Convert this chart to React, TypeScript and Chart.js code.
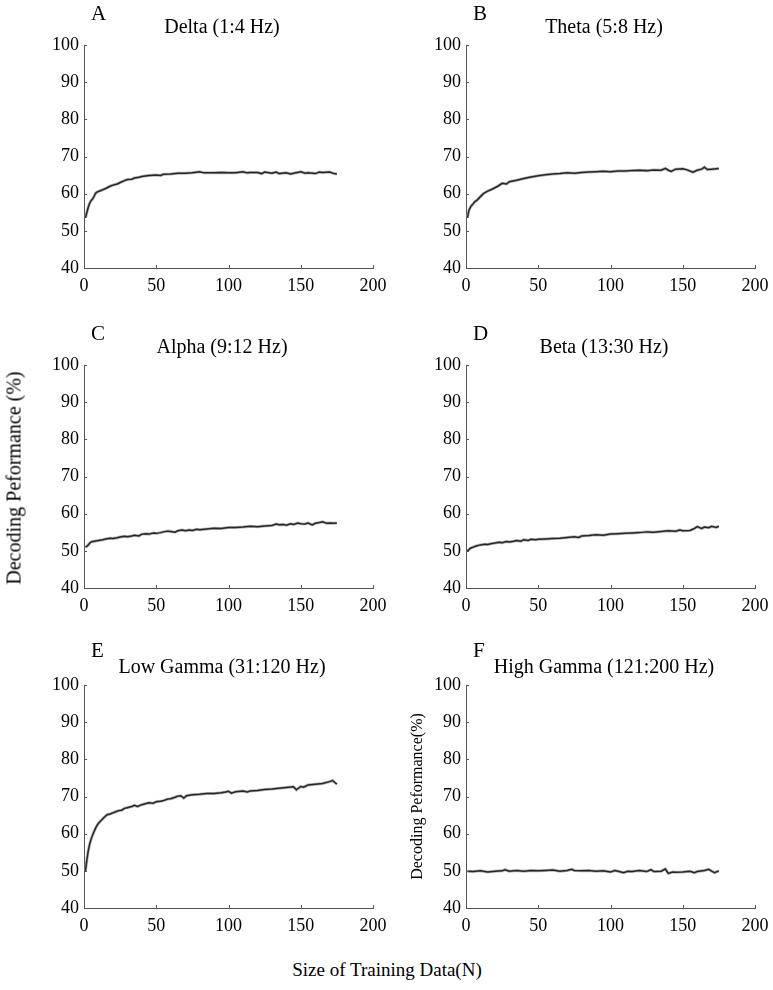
import React, { useEffect, useRef } from "react";
import { Chart, registerables } from "chart.js";
Chart.register(...registerables);

const FONT = "'Liberation Serif', 'Times New Roman', serif";
Chart.defaults.font.family = FONT;

const xTickStep = 50;
const xMin = 0;
const xMax = 200;
const yMin = 40;
const yMax = 100;
const yTickStep = 10;

const deltaX = [1,2,3,4,5,6,7,8,9,10,12,15,18,20,23,25,28,30,33,35,38,40,45,50,53,55,60,65,70,75,80,83,85,90,95,100,105,110,113,115,120,123,125,130,133,135,140,143,145,150,153,155,160,163,165,170,173,175];
const deltaY = [53.5,55.0,56.4,57.5,58.2,58.6,59.3,60.1,60.4,60.6,60.9,61.4,62.0,62.3,62.6,63.0,63.5,63.8,63.9,64.2,64.4,64.6,64.9,65.0,64.9,65.2,65.3,65.5,65.5,65.6,65.9,65.6,65.6,65.6,65.7,65.6,65.6,65.9,65.6,65.7,65.7,65.4,65.8,65.5,65.8,65.4,65.6,65.3,65.5,65.9,65.5,65.6,65.4,65.8,65.7,65.8,65.4,65.3];

const thetaX = [1,2,3,4,5,6,8,10,12,15,18,20,22,25,28,30,35,40,45,50,55,60,65,70,75,80,85,90,95,100,105,110,115,120,125,130,135,138,140,142,145,150,153,157,160,163,165,167,170,175];
const thetaY = [53.5,55.5,56.3,56.9,57.3,57.8,58.4,59.2,60.0,60.7,61.2,61.6,62.0,62.8,62.6,63.2,63.6,64.1,64.5,64.8,65.1,65.3,65.4,65.6,65.5,65.7,65.8,65.9,66.0,65.9,66.1,66.1,66.2,66.3,66.2,66.4,66.3,66.8,66.3,66.0,66.6,66.7,66.4,65.8,66.3,66.6,67.1,66.5,66.6,66.8];

const alphaX = [1,2,3,4,5,7,10,13,15,18,20,23,25,28,30,33,35,38,40,43,45,48,50,53,55,58,60,63,65,68,70,73,75,78,80,85,90,95,100,105,110,115,120,125,130,133,135,138,140,143,145,148,150,153,155,158,160,163,165,168,170,173,175];
const alphaY = [51.0,51.2,51.6,52.1,52.4,52.6,52.8,53.0,53.2,53.4,53.3,53.5,53.7,53.9,53.8,54.0,54.2,54.0,54.5,54.6,54.5,54.8,54.7,54.9,55.1,55.3,55.2,55.0,55.4,55.6,55.4,55.6,55.5,55.8,55.7,55.9,56.1,56.0,56.3,56.3,56.4,56.6,56.5,56.7,56.8,57.2,57.0,57.1,56.9,57.3,57.1,57.5,57.3,57.2,57.5,57.0,57.4,57.6,57.8,57.4,57.5,57.4,57.5];

const betaX = [1,2,3,5,7,10,13,15,18,20,23,25,28,30,33,35,38,40,43,45,48,50,55,60,65,70,75,78,80,85,90,95,100,105,110,115,120,125,130,135,140,145,148,150,155,158,160,163,165,168,170,173,175];
const betaY = [50.0,50.3,50.7,51.0,51.3,51.6,51.8,51.7,52.0,52.1,52.3,52.2,52.5,52.4,52.6,52.8,52.6,53.0,52.8,53.1,53.0,53.1,53.2,53.3,53.4,53.6,53.8,53.6,54.0,54.1,54.3,54.2,54.5,54.6,54.7,54.8,54.9,55.1,55.0,55.2,55.4,55.3,55.6,55.4,55.5,56.0,56.5,56.0,56.4,56.2,56.6,56.3,56.6];

const lowGammaX = [1,2,3,4,5,6,7,8,9,10,12,14,16,18,20,22,24,26,28,30,33,35,37,40,43,45,48,50,53,55,58,60,63,65,67,69,71,75,80,85,90,95,98,100,102,105,110,113,115,120,125,130,135,140,145,147,150,152,155,160,165,170,172,175];
const lowGammaY = [50.0,53.0,55.5,57.3,58.6,59.7,60.6,61.5,62.2,62.8,63.6,64.4,65.1,65.3,65.6,65.9,66.2,66.3,66.8,67.0,67.3,67.6,67.3,67.8,68.1,68.3,68.2,68.6,68.7,68.9,69.3,69.4,69.8,70.1,70.2,69.6,70.2,70.5,70.6,70.8,70.8,71.0,71.2,71.4,70.9,71.3,71.5,71.2,71.5,71.6,71.9,72.0,72.2,72.4,72.6,71.8,72.7,72.5,73.1,73.3,73.5,74.0,74.3,73.3];

const highGammaX = [1,5,10,15,20,25,27,30,35,40,45,50,55,60,65,70,73,75,80,85,90,95,100,103,106,109,112,115,120,125,128,130,135,138,140,143,145,150,155,158,160,165,168,170,172,175];
const highGammaY = [49.9,49.8,50.0,49.7,49.9,50.0,50.3,49.9,50.1,49.9,50.1,50.0,50.1,50.2,49.9,50.1,50.4,50.1,50.0,50.1,49.9,50.0,49.7,50.1,49.8,49.5,49.9,49.8,50.1,49.8,50.3,49.8,49.9,50.5,49.3,49.7,49.6,49.7,49.9,49.5,49.8,50.1,50.4,49.9,49.5,50.0];

const letters = ["A", "B", "C", "D", "E", "F"];
const titles = [
  "Delta (1:4 Hz)",
  "Theta (5:8 Hz)",
  "Alpha (9:12 Hz)",
  "Beta (13:30 Hz)",
  "Low Gamma (31:120 Hz)",
  "High Gamma (121:200 Hz)",
];
const xSeries = [deltaX, thetaX, alphaX, betaX, lowGammaX, highGammaX];
const ySeries = [deltaY, thetaY, alphaY, betaY, lowGammaY, highGammaY];
const panelYLabels = ["", "", "", "", "", "Decoding Peformance(%)"];

const yAxisLabel = "Decoding Peformance (%)";
const xAxisLabel = "Size of Training Data(N)";

const CW = 390;
const CH = 310;
const AX_LEFT = 84;
const AX_TOP = 45;
const AX_W = 289;
const AX_H = 223;
const XAXIS_H = 32;

function Panel({ idx }: { idx: number }) {
  const ref = useRef<HTMLCanvasElement>(null);
  const col = idx % 2;
  const row = Math.floor(idx / 2);
  const left = col === 0 ? 0 : 382;
  const top = row * 320;

  useEffect(() => {
    const pts = xSeries[idx].map((x, i) => ({ x, y: ySeries[idx][i] }));
    const decor = {
      id: "decor",
      afterDraw(chart: any) {
        const { ctx, chartArea } = chart;
        const xs = chart.scales.x;
        const ys = chart.scales.y;
        ctx.save();
        ctx.strokeStyle = "#555";
        ctx.lineWidth = 1;
        ctx.beginPath();
        xs.ticks.forEach((t: any) => {
          const px = Math.round(xs.getPixelForValue(t.value)) + 0.5;
          ctx.moveTo(px, chartArea.bottom);
          ctx.lineTo(px, chartArea.bottom - 3);
        });
        ys.ticks.forEach((t: any) => {
          const py = Math.round(ys.getPixelForValue(t.value)) + 0.5;
          ctx.moveTo(chartArea.left, py);
          ctx.lineTo(chartArea.left + 3, py);
        });
        ctx.stroke();
        ctx.fillStyle = "#000";
        ctx.textBaseline = "middle";
        ctx.textAlign = "left";
        ctx.font = `21px ${FONT}`;
        ctx.fillText(letters[idx], chartArea.left + 7, chartArea.top - (row === 2 ? 34 : 31));
        ctx.textAlign = "center";
        ctx.font = `20px ${FONT}`;
        ctx.fillText(titles[idx], chartArea.left + 138, chartArea.top - 17);
        if (panelYLabels[idx]) {
          ctx.save();
          ctx.translate(chartArea.left - 48, (chartArea.top + chartArea.bottom) / 2);
          ctx.rotate(-Math.PI / 2);
          ctx.font = `16px ${FONT}`;
          ctx.fillText(panelYLabels[idx], 0, 0);
          ctx.restore();
        }
        ctx.restore();
      },
    };
    const chart = new Chart(ref.current as HTMLCanvasElement, {
      type: "line",
      data: {
        datasets: [
          { data: pts, borderColor: "#262626", borderWidth: 1.5, pointRadius: 0, tension: 0, fill: false },
          { data: pts, borderColor: "rgba(150,150,150,0.7)", borderWidth: 3, pointRadius: 0, tension: 0, fill: false },
        ],
      },
      options: {
        responsive: false,
        animation: false,
        events: [],
        layout: {
          padding: { left: 0, top: AX_TOP, right: CW - AX_LEFT - AX_W, bottom: CH - AX_TOP - AX_H - XAXIS_H },
        },
        plugins: { legend: { display: false }, tooltip: { enabled: false }, title: { display: false } },
        scales: {
          x: {
            type: "linear",
            min: xMin,
            max: xMax,
            ticks: { stepSize: xTickStep, padding: 7, color: "#000", font: { family: FONT, size: 18 }, maxRotation: 0 },
            grid: { display: false, drawTicks: false },
            border: { display: true, color: "#555", width: 1 },
            afterFit(s: any) {
              s.height = XAXIS_H;
              s.paddingLeft = 0;
              s.paddingRight = 0;
            },
          },
          y: {
            type: "linear",
            min: yMin,
            max: yMax,
            ticks: { stepSize: yTickStep, padding: 5, color: "#000", font: { family: FONT, size: 18 } },
            grid: { display: false, drawTicks: false },
            border: { display: true, color: "#555", width: 1 },
            afterFit(s: any) {
              s.width = AX_LEFT;
              s.paddingTop = 0;
              s.paddingBottom = 0;
            },
          },
        },
      },
      plugins: [decor],
    } as any);
    return () => chart.destroy();
  }, []);

  return (
    <canvas
      ref={ref}
      width={CW}
      height={CH}
      style={{ position: "absolute", left, top, width: CW, height: CH }}
    />
  );
}

export default function App() {
  return (
    <div style={{ position: "absolute", left: 0, top: 0, width: 773, height: 990, background: "#fff", fontFamily: FONT }}>
      {letters.map((_, i) => (
        <Panel key={i} idx={i} />
      ))}
      <div
        style={{
          position: "absolute",
          left: 14,
          top: 478,
          transform: "translate(-50%, -50%) rotate(-90deg)",
          whiteSpace: "nowrap",
          fontSize: 20,
          color: "#000",
        }}
      >
        {yAxisLabel}
      </div>
      <div
        style={{
          position: "absolute",
          left: 387,
          top: 970,
          transform: "translate(-50%, -50%)",
          whiteSpace: "nowrap",
          fontSize: 19,
          color: "#000",
        }}
      >
        {xAxisLabel}
      </div>
    </div>
  );
}
